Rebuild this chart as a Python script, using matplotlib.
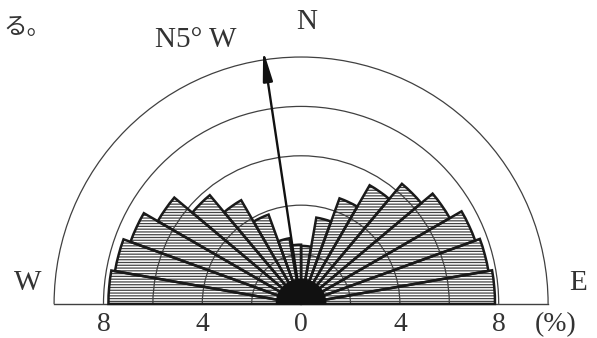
import numpy as np
import matplotlib.pyplot as plt
from matplotlib.patches import Wedge, Arc

# rose diagram of directions (10 degree bins, W -> N -> E), frequency in %
bin_start = [270, 280, 290, 300, 310, 320, 330, 340, 350,
             0, 10, 20, 30, 40, 50, 60, 70, 80]
freq = [7.8, 7.65, 7.35, 6.7, 5.75, 4.85, 3.85, 2.7, 2.4,
        2.35, 3.55, 4.55, 5.55, 6.35, 6.95, 7.5, 7.7, 7.85]
rings = [2, 4, 6, 8, 10]
tick_pos = [-8, -4, 0, 4, 8]
tick_lab = ['8', '4', '0', '4', '8']
mean_dir = -8.5      # degrees from N (drawn arrow)
arrow_len = 10.4

ink = '#1a1a1a'
serif = 'Liberation Serif'
plt.rcParams['hatch.linewidth'] = 0.9

fig = plt.figure(figsize=(5.97, 3.38), dpi=100)
ax = fig.add_axes([0, 0, 1, 1])
ax.set_xlim(-12.19, 11.98)
ax.set_ylim(-1.38, 12.31)
ax.axis('off')

# petals
for b, r in zip(bin_start, freq):
    t1 = (90 - (b + 10)) % 360
    t2 = (90 - b) % 360
    if t2 == 0:
        t2 = 360
    ax.add_patch(Wedge((0, 0), r, t1, t2, facecolor='white', edgecolor='#444444',
                       lw=0, hatch='------', zorder=2))
    ax.add_patch(Wedge((0, 0), r, t1, t2, fill=False, edgecolor=ink, lw=1.8, zorder=4))

# rings
for r in rings:
    ax.add_patch(Arc((0, 0), 2 * r, 2 * r, theta1=0, theta2=180, lw=0.9,
                     color='#404040', zorder=3))

ax.plot([-10, 10], [0, 0], color='#404040', lw=1.0, zorder=3)
ax.add_patch(Wedge((0, 0), 1.0, 0, 180, color='#111111', zorder=5))

# mean direction arrow
a = np.deg2rad(90 - mean_dir)
ax.annotate('', xy=(arrow_len * np.cos(a), arrow_len * np.sin(a)), xytext=(0, 0),
            arrowprops=dict(arrowstyle='-|>,head_length=1.0,head_width=0.16',
                            lw=1.7, color='#111111', mutation_scale=18,
                            shrinkA=0, shrinkB=0), zorder=6)

# labels
for x, t in zip(tick_pos, tick_lab):
    ax.text(x, -0.85, t, ha='center', va='center', fontsize=20, family=serif, color='#333333')
ax.text(10.3, -0.85, '(%)', ha='center', va='center', fontsize=20, family=serif, color='#333333')
ax.text(0.24, 11.4, 'N', ha='center', va='center', fontsize=21, family=serif, color='#333333')
ax.text(-4.25, 10.7, 'N5° W', ha='center', va='center', fontsize=21, family=serif, color='#333333')
ax.text(-11.05, 0.85, 'W', ha='center', va='center', fontsize=21, family=serif, color='#333333')
ax.text(11.2, 0.85, 'E', ha='center', va='center', fontsize=21, family=serif, color='#333333')
ax.text(-11.1, 11.2, 'る。', ha='center', va='center', fontsize=17,
        family=['Noto Sans CJK JP', 'DejaVu Sans'], color='#333333')

plt.savefig('out.png', dpi=100)
